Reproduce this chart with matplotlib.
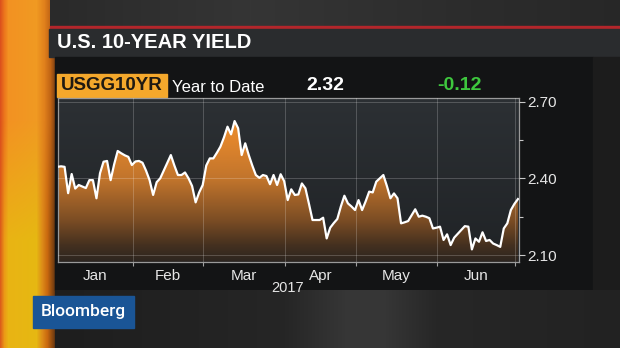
import numpy as np
import pandas as pd
import matplotlib
matplotlib.use("Agg")
import matplotlib.pyplot as plt
from matplotlib.colors import LinearSegmentedColormap, to_rgb
from matplotlib.patches import Rectangle

title = "U.S. 10-YEAR YIELD"
ticker = "USGG10YR"
period = "Year to Date"
last_value = "2.32"
change = "-0.12"
year = "2017"

# one value per weekday, Jan 2 .. Jul 3 2017 (holidays repeat the last close)
dates = pd.bdate_range("2017-01-02", "2017-07-03")
yields = [
    # Jan
    2.445, 2.447, 2.445, 2.342, 2.417, 2.360, 2.374, 2.368, 2.362, 2.393, 2.393,
    2.322, 2.420, 2.465, 2.468, 2.393, 2.455, 2.507, 2.498, 2.490, 2.484, 2.452,
    # Feb
    2.466, 2.468, 2.461, 2.430, 2.393, 2.335, 2.385, 2.400, 2.430, 2.460,
    2.491, 2.450, 2.413, 2.413, 2.423, 2.400, 2.370, 2.306, 2.345, 2.374,
    # Mar
    2.450, 2.478, 2.478, 2.500, 2.524, 2.560, 2.602, 2.572, 2.624, 2.596, 2.491,
    2.537, 2.491, 2.450, 2.413, 2.402, 2.413, 2.409, 2.377, 2.413, 2.374, 2.416, 2.389,
    # Apr
    2.315, 2.357, 2.335, 2.337, 2.380, 2.361, 2.300, 2.237, 2.237, 2.237,
    2.246, 2.165, 2.207, 2.225, 2.241, 2.290, 2.332, 2.302, 2.290, 2.276,
    # May
    2.315, 2.276, 2.310, 2.348, 2.345, 2.387, 2.400, 2.413, 2.370, 2.322, 2.341,
    2.322, 2.224, 2.228, 2.233, 2.256, 2.279, 2.250, 2.254, 2.250, 2.244, 2.204, 2.207,
    # Jun
    2.211, 2.159, 2.181, 2.139, 2.168, 2.183, 2.198, 2.213, 2.211, 2.122, 2.165,
    2.152, 2.189, 2.155, 2.159, 2.145, 2.139, 2.132, 2.204, 2.224, 2.276, 2.300,
    # Jul
    2.319,
]
month_labels = ["Jan", "Feb", "Mar", "Apr", "May", "Jun"]
y_major = [2.10, 2.40, 2.70]
y_minor = [2.25, 2.55]

plt.rcParams["font.family"] = ["Liberation Sans", "DejaVu Sans"]

W, H = 620, 348
fig = plt.figure(figsize=(W / 100, H / 100), dpi=100)
fig.patch.set_facecolor("#1b1b1b")

# background drawn in pixel coordinates
bg = fig.add_axes([0, 0, 1, 1])
bg.set_xlim(0, W)
bg.set_ylim(H, 0)
bg.axis("off")


def hexrgb(c):
    return np.array(to_rgb(c))


def profile(stops, n):
    xs = [s[0] for s in stops]
    cols = np.array([hexrgb(s[1]) for s in stops])
    xx = np.arange(n)
    return np.stack([np.interp(xx, xs, cols[:, k]) for k in range(3)], axis=1)


# orange/yellow side stripe
sw = 58
top_prof = profile([(0, "#dc521c"), (4, "#ec761c"), (8, "#f39222"), (36, "#f09a22"),
                    (44, "#e0801c"), (50, "#c06414"), (55, "#7a3e12"), (57, "#2a1c12")], sw)
bot_prof = profile([(0, "#dc5e1a"), (4, "#eb9a16"), (8, "#e9b414"), (36, "#e6b812"),
                    (42, "#dc8a18"), (47, "#c8680f"), (53, "#7a4010"), (57, "#221a14")], sw)
t = np.clip((np.arange(H) - 120) / 120.0, 0, 1)[:, None, None]
stripe = (1 - t) * top_prof[None] + t * bot_prof[None]
bg.imshow(stripe, extent=[0, sw, H, 0], aspect="auto", zorder=0)

# top band, red rule, title bar, panel
topband = profile([(0, "#2a2a2a"), (200, "#353535"), (420, "#2c2c2c"), (620, "#262626")], W - 50)
bg.imshow(topband[None], extent=[50, W, 26, 0], aspect="auto", zorder=1)
bg.add_patch(Rectangle((50, 25.5), W - 50, 3, color="#b3262b", zorder=2))
bg.add_patch(Rectangle((49, 28.5), W - 49, 28.5, color="#2a2c2e", zorder=2))
bg.add_patch(Rectangle((55, 57), 538, 233, color="#131415", zorder=2))
bg.add_patch(Rectangle((593, 57), W - 593, 233, color="#1c1c1c", zorder=2))
lower = profile([(0, "#1e1e1e"), (230, "#262626"), (290, "#363636"), (330, "#363636"),
                 (380, "#272727"), (565, "#222222")], W - 55)
bg.imshow(lower[None], extent=[55, W, H, 290], aspect="auto", zorder=2)

bg.text(57, 42, title, color="white", fontsize=14.5, fontweight="bold",
        va="center", ha="left", zorder=5)

# header row
bg.add_patch(Rectangle((57, 74), 110, 23, color="#f4a82c", zorder=4))
bg.text(61, 86, ticker, color="#1f1a12", fontsize=13.5, fontweight="bold",
        va="center", ha="left", zorder=5)
bg.text(172, 87, period, color="white", fontsize=12, va="center", ha="left", zorder=5)
bg.text(325, 86, last_value, color="white", fontsize=14, fontweight="bold",
        va="center", ha="center", zorder=5)
bg.text(459, 86, change, color="#3ec73e", fontsize=14, fontweight="bold",
        va="center", ha="center", zorder=5)
bg.text(288, 288, year, color="#e6e6e6", fontsize=10.5, va="center", ha="center", zorder=5)

# Bloomberg tag
bg.add_patch(Rectangle((33, 296), 100.5, 32, color="#1a5596", zorder=6))
bg.text(83, 311.5, "Bloomberg", color="white", fontsize=12.5, fontweight="medium",
        family=["Roboto", "DejaVu Sans"], va="center", ha="center", zorder=7)

# chart
x0, x1, y0, y1 = 57.5, 519, 98.3, 261.7
ax = fig.add_axes([x0 / W, 1 - y1 / H, (x1 - x0) / W, (y1 - y0) / H])
xlo, xhi = 0.0, 130.3
ylo, yhi = 2.074, 2.713

xs = np.arange(len(yields))
ys = np.array(yields)

plot_bg = LinearSegmentedColormap.from_list("pbg", ["#202326", "#2c3034"])
ax.imshow(np.linspace(0, 1, 64).reshape(-1, 1), extent=[xlo, xhi, ylo, yhi],
          origin="lower", aspect="auto", cmap=plot_bg, zorder=0.5)

fill_cmap = LinearSegmentedColormap.from_list(
    "fill", [(0, "#2c2520"), (0.1, "#44301f"), (0.25, "#7a4c24"),
             (0.5, "#c0742c"), (0.75, "#e2862c"), (1, "#f29a34")])
im = ax.imshow(np.linspace(0, 1, 256).reshape(-1, 1), extent=[xlo, xhi, ylo, yhi],
               origin="lower", aspect="auto", cmap=fill_cmap, zorder=1.5)
poly = ax.fill_between(xs, ys, ylo, facecolor="none", edgecolor="none")
im.set_clip_path(poly.get_paths()[0], transform=ax.transData)

ax.plot(xs, ys, color="white", lw=1.6, zorder=4, solid_joinstyle="round")

# month boundaries sit a little before the first weekday of each month
month_idx = [0] + [i for i in range(1, len(dates)) if dates[i].month != dates[i - 1].month]
bounds = [i - 0.8 for i in month_idx[1:]]
edges = [xlo] + bounds
centers = [(edges[k] + edges[k + 1]) / 2 for k in range(len(month_labels))]

ax.set_xlim(xlo, xhi)
ax.set_ylim(ylo, yhi)
ax.set_xticks(bounds)
ax.set_xticklabels([])
ax.set_xticks(centers, minor=True)
ax.set_xticklabels(month_labels, minor=True)
ax.tick_params(axis="x", which="major", direction="out", length=3, width=0.8, color="#a0a0a0")
ax.tick_params(axis="x", which="minor", length=0, pad=5, labelsize=11, labelcolor="#e6e6e6")

ax.yaxis.tick_right()
ax.set_yticks(y_major)
ax.set_yticklabels([f"{v:.2f}" for v in y_major])
ax.set_yticks(y_minor, minor=True)
ax.tick_params(axis="y", which="major", direction="out", length=4, width=0.8,
               color="#c8c8c8", pad=2, labelsize=11, labelcolor="#e6e6e6")
ax.tick_params(axis="y", which="minor", direction="out", length=3, width=0.8, color="#c8c8c8")

ax.set_axisbelow(False)
ax.grid(True, which="major", color="white", alpha=0.2, lw=0.7)
for s in ax.spines.values():
    s.set_color("#9a9a9a")
    s.set_linewidth(0.9)

fig.savefig("out.png", dpi=100, facecolor=fig.get_facecolor())
